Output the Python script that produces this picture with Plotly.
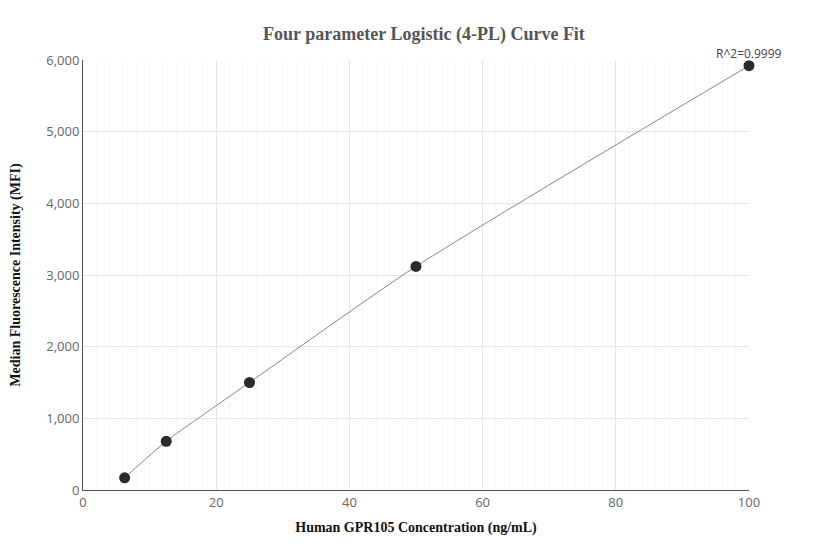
import plotly.graph_objects as go

conc = [6.25, 12.5, 25, 50, 100]
mfi = [170, 680, 1500, 3120, 5920]
r2_label = "R^2=0.9999"

fig = go.Figure()
fig.add_trace(go.Scatter(x=conc, y=mfi, mode="lines", line=dict(color="#888888", width=1, shape="spline", smoothing=0.6), hoverinfo="skip"))
fig.add_trace(go.Scatter(x=conc, y=mfi, mode="markers", marker=dict(color="#2b2b2b", size=11), cliponaxis=False))
fig.add_annotation(x=conc[-1], y=mfi[-1], text=r2_label, showarrow=False, yshift=12, xanchor="center",
                   font=dict(family="Open Sans, Arial", size=12, color="#444"))
fig.update_layout(
    width=832, height=560, showlegend=False, plot_bgcolor="white", paper_bgcolor="white",
    margin=dict(l=83, r=83, t=60, b=70),
    title=dict(text="<b>Four parameter Logistic (4-PL) Curve Fit</b>", x=0.5, y=0.94, xanchor="center",
               font=dict(family="Liberation Serif, Times New Roman", size=18, color="#555")),
    xaxis=dict(range=[0, 100], dtick=20, showgrid=True, gridcolor="#e6e6e6", showline=True, linecolor="#555",
               ticks="", tickfont=dict(family="Open Sans, Arial", size=13, color="#666"), zeroline=False,
               minor=dict(dtick=2, showgrid=True, gridcolor="#f7f7f7"),
               title=dict(text="<b>Human GPR105 Concentration (ng/mL)</b>", standoff=12, font=dict(family="Liberation Serif, Times New Roman", size=14, color="#111"))),
    yaxis=dict(range=[0, 6000], dtick=1000, tickformat=",", showgrid=True, gridcolor="#e6e6e6", showline=True, linecolor="#555",
               tickfont=dict(family="Open Sans, Arial", size=13, color="#666"), zeroline=False,
               title=dict(text="<b>Median Fluorescence Intensity (MFI)</b>", standoff=22, font=dict(family="Liberation Serif, Times New Roman", size=14, color="#111"))),
)
fig.update_layout(margin=dict(l=75, r=91, t=52, b=78, autoexpand=False), title=dict(y=0.965))
fig.write_html("out.html")
